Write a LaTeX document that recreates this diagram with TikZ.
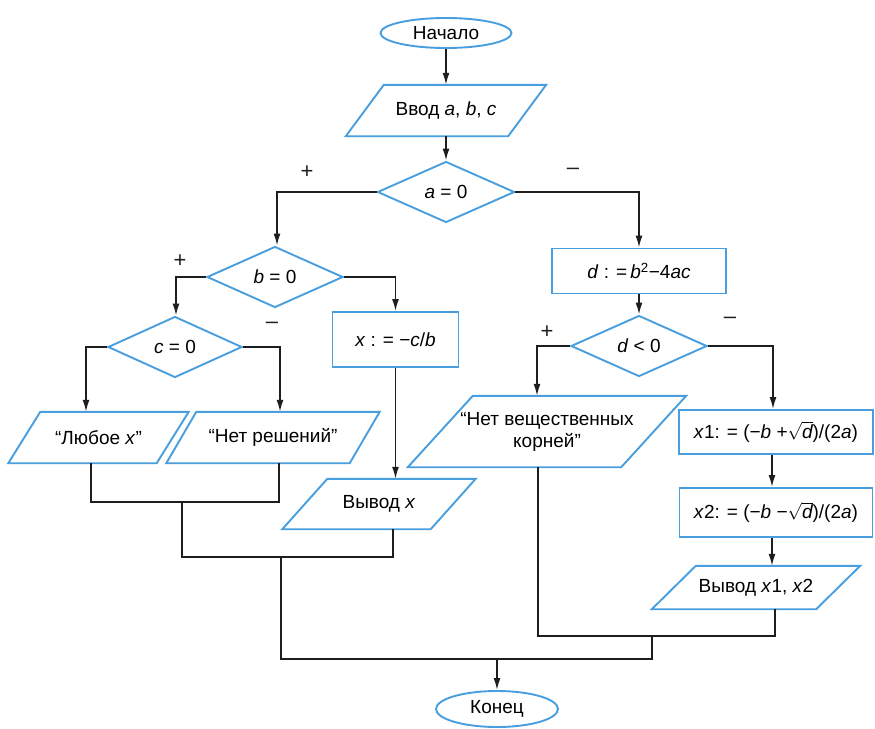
\documentclass[tikz,border=0pt]{standalone}
\usepackage{fontspec}
\setmainfont{Liberation Sans}
\usetikzlibrary{shapes.geometric,arrows.meta}
\definecolor{fcblue}{RGB}{72,158,222}
\definecolor{fcline}{RGB}{30,30,30}
\tikzset{
  shapeline/.style={draw=fcblue, line width=1.9pt, line join=miter},
  txt/.style={font=\fontsize{19}{22}\selectfont, text=black, align=center},
  term/.style={ellipse, shapeline, txt, inner sep=0pt},
  proc/.style={rectangle, shapeline, txt, inner sep=0pt},
  dec/.style={diamond, shapeline, txt, inner sep=0pt, aspect=2.2},
  iobox/.style={rectangle, txt, inner sep=0pt},
  conn/.style={draw=fcline, line width=1.6pt},
  arr/.style={conn, -{Latex[length=12pt,width=7pt]}},
  sign/.style={font=\fontsize{22}{24}\selectfont, text=fcline}
}
\newcommand\iopath[2]{\draw[shapeline] ([xshift={#2*0.5pt}]#1.north west) -- ([xshift={#2*0.5pt}]#1.north east) -- ([xshift={-#2*0.5pt}]#1.south east) -- ([xshift={-#2*0.5pt}]#1.south west) -- cycle;}
\newcommand\sqd{$\sqrt{\mbox{\itshape d}}$}
\begin{document}
\begin{tikzpicture}[x=1pt,y=-1pt]
\fill[white] (0,0) rectangle (875,728);
\useasboundingbox (0,0) rectangle (875,728);

% nodes
\node[term, minimum width=131pt, minimum height=30pt] (start) at (446,33) {Начало};
\node[iobox, minimum width=162pt, minimum height=51pt] (inp) at (446,110.5) {Ввод \textit{a}, \textit{b}, \textit{c}};
\iopath{inp}{38}
\node[dec, minimum width=137pt, minimum height=61pt] (qa) at (446,192) {\textit{a} = 0};
\node[dec, minimum width=136pt, minimum height=61pt] (qb) at (275,277) {\textit{b} = 0};
\node[dec, minimum width=134pt, minimum height=61pt] (qc) at (175,347) {\textit{c} = 0};
\node[proc, minimum width=174pt, minimum height=45pt] (dd) at (639,271) {\textit{d} : =\,\textit{b}\textsuperscript{2}−4\textit{ac}};
\node[proc, minimum width=126pt, minimum height=55pt] (xc) at (395.5,339.5) {\textit{x} : = −\textit{c}/\textit{b}};
\node[iobox, minimum width=148pt, minimum height=51pt] (any) at (98.5,437.5) {“Любое \textit{x}”};
\iopath{any}{32}
\node[iobox, minimum width=183pt, minimum height=51pt] (nosol) at (273,437.5) {“Нет решений”};
\iopath{nosol}{30}
\node[iobox, minimum width=148pt, minimum height=50pt] (outx) at (379,504) {Вывод \textit{x}};
\iopath{outx}{45}
\node[dec, minimum width=136pt, minimum height=61pt] (qd) at (639,346) {\textit{d} < 0};
\node[iobox, minimum width=213pt, minimum height=71pt] (noreal) at (547,431.5) {“Нет вещественных\\корней”};
\iopath{noreal}{65}
\node[proc, minimum width=194pt, minimum height=44pt] (x1) at (776,432) {\textit{x}1: = (−\textit{b} +\sqd)/(2\textit{a})};
\node[proc, minimum width=193pt, minimum height=49pt] (x2) at (776,512.5) {\textit{x}2: = (−\textit{b} −\sqd)/(2\textit{a})};
\node[iobox, minimum width=164pt, minimum height=43pt] (outxx) at (756,587.5) {Вывод \textit{x}1, \textit{x}2};
\iopath{outxx}{44}
\node[term, minimum width=122pt, minimum height=36pt] (fin) at (497,709) {Конец};

% sign labels
\node[sign] (pa) at (307,172) {+};
\node[sign] (ma) at (573,171) {–};
\node[sign] (pb) at (180,261) {+};
\node[sign] (mc) at (272,325) {–};
\node[sign] (pd) at (547,332) {+};
\node[sign] (md) at (730,320) {–};

% junction coordinates
\coordinate (j1) at (182,502);
\coordinate (j2) at (182,557);
\coordinate (j3) at (281,557);
\coordinate (j4) at (281,659);
\coordinate (j5) at (652,659);
\coordinate (j6) at (652,636);
\coordinate (j7) at (497,659);
\coordinate (j8) at (775,636);
\coordinate (j9) at (538,636);

% connectors
\draw[arr] (start.south) -- (inp.north);
\draw[arr] (inp.south) -- (qa.north);
\draw[arr] (qa.west) -| ([xshift=2pt]qb.north);
\draw[arr] (qa.east) -| (dd.north);
\draw[arr] (qb.west) -| ([xshift=1pt]qc.north);
\draw[arr] (qb.east) -| (xc.north);
\draw[arr] (qc.west) -| ([xshift=-12.5pt]any.north);
\draw[arr] (qc.east) -| ([xshift=7pt]nosol.north);
\draw[conn] ([xshift=-7.5pt]any.south) |- (j1) -| ([xshift=6pt]nosol.south);
\draw[conn] (j1) -- (j2) -| ([xshift=14pt]outx.south);
\draw[arr] (xc.south) -- (xc.south |- outx.north);
\draw[conn] (j3) -- (j4) -- (j5) -- (j6);
\draw[arr] (j7) -- (fin.north);
\draw[arr] (dd.south) -- (qd.north);
\draw[arr] (qd.west) -| ([xshift=-10pt]noreal.north);
\draw[arr] (qd.east) -| ([xshift=-3pt]x1.north);
\draw[arr] ([xshift=-4pt]x1.south) -- ([xshift=-4pt]x2.north);
\draw[arr] ([xshift=-4pt]x2.south) -- ([xshift=16pt]outxx.north);
\draw[conn] ([xshift=-9pt]noreal.south) -- (j9) -- (j8) -- ([xshift=19pt]outxx.south);
\end{tikzpicture}
\end{document}
